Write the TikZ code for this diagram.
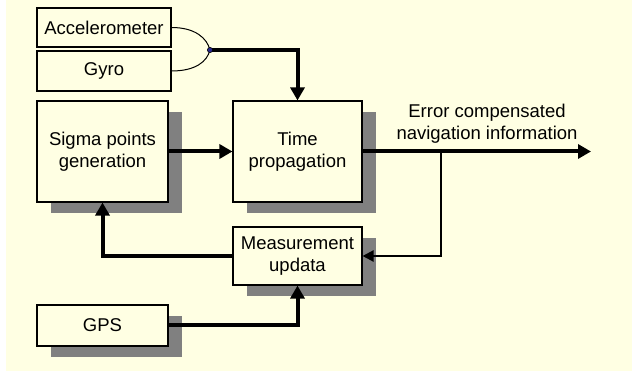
\documentclass[tikz,border=0pt]{standalone}
\usepackage{fontspec}
\setmainfont{Liberation Sans}
\usepackage{xcolor}
\usetikzlibrary{arrows.meta,shadows}

\definecolor{paper}{RGB}{255,255,227}
\definecolor{shade}{RGB}{128,128,128}
\definecolor{dotblue}{RGB}{40,40,140}

\begin{document}
\begin{tikzpicture}[x=1pt, y=-1pt,
  font=\fontsize{18.5}{22}\selectfont,
  block/.style={draw, line width=1.1pt, fill=paper, align=center, inner sep=0pt},
  shadowed/.style={block, drop shadow={shadow xshift=14pt, shadow yshift=-11pt, fill=shade, opacity=1}},
  bigflow/.style={line width=4pt, -{Triangle[width=14pt,length=13pt]}},
  smallflow/.style={line width=2.2pt, -{Triangle[width=11pt,length=11pt]}}]

\useasboundingbox (0,0) rectangle (632,371);
\fill[paper] (6,0) rectangle (632,371);

% Sensors
\node[block, minimum width=134pt, minimum height=39pt] (accel) at (104,27.5) {Accelerometer};
\node[block, minimum width=134pt, minimum height=40pt] (gyro) at (104,71) {Gyro};

% Filter blocks
\node[shadowed, minimum width=131pt, minimum height=101pt] (sigma) at (102.5,151.5) {Sigma points\\generation};
\node[shadowed, minimum width=129pt, minimum height=101pt] (timeprop) at (297.5,151.5) {Time\\propagation};
\node[shadowed, minimum width=129pt, minimum height=58pt] (measure) at (297.5,256) {Measurement\\updata};
\node[shadowed, minimum width=131pt, minimum height=41pt] (gps) at (102.5,325.5) {GPS};

% Sensor merge
\coordinate (merge) at (210,50);
\draw[line width=1pt] (accel.east) .. controls (195,27.5) and (207,38) .. (merge);
\draw[line width=1pt] (gyro.east) .. controls (195,71) and (207,62) .. (merge);
\draw[bigflow] (merge) -| (timeprop.north);
\filldraw[fill=dotblue, draw=black, line width=0.6pt] (merge) circle (2.6pt);

% Main flow
\draw[bigflow] (sigma.east) -- (timeprop.west);
\coordinate (out) at (591,151.5);
\draw[bigflow] (timeprop.east) -- (out);
\node[align=center] (outlabel) at (487,124) {Error compensated\\navigation information};

% Feedback
\coordinate (branch) at (441,151.5);
\draw[smallflow] (branch) |- (measure.east);
\draw[bigflow] (measure.west) -| (sigma.south);
\draw[bigflow] (gps.east) -| (measure.south);

\end{tikzpicture}
\end{document}
